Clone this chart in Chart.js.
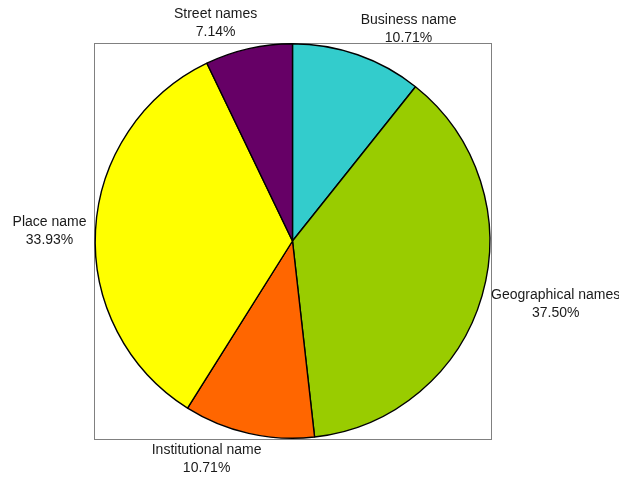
<!DOCTYPE html>
<html>
<head>
<meta charset="utf-8">
<script src="https://cdn.jsdelivr.net/npm/chart.js@4"></script>
<style>
  body { margin: 0; background: #fff; }
</style>
</head>
<body>
<canvas id="canvas" width="619" height="479"></canvas>
<script>
let categories = ["Business name", "Geographical names", "Institutional name", "Place name", "Street names"];
let counts = [6, 21, 6, 19, 4];
let sliceColors = ["#33cccc", "#99cc00", "#ff6600", "#ffff00", "#660066"];

// small pixel nudges for the label text, per slice
let labelNudge = [[39, 8], [39, -1], [-34, -9], [-10, 3], [-25, 10]];

let total = counts.reduce((a, b) => a + b, 0);
let percents = counts.map(v => (v / total * 100).toFixed(2) + "%");

const boxPlugin = {
  id: 'box',
  beforeDatasetsDraw(chart) {
    const { ctx, chartArea } = chart;
    ctx.save();
    ctx.strokeStyle = "#808080";
    ctx.lineWidth = 1;
    ctx.strokeRect(Math.round(chartArea.left) + 0.5, Math.round(chartArea.top) + 0.5,
      Math.round(chartArea.width), Math.round(chartArea.height));
    ctx.restore();
  }
};

const labelPlugin = {
  id: 'sliceLabels',
  afterDraw(chart) {
    const ctx = chart.ctx;
    const arcs = chart.getDatasetMeta(0).data;
    ctx.save();
    ctx.font = "14px 'Liberation Sans', Arial, sans-serif";
    ctx.fillStyle = "#1a1a1a";
    ctx.textAlign = "center";
    ctx.textBaseline = "middle";
    arcs.forEach((arc, i) => {
      const mid = (arc.startAngle + arc.endAngle) / 2;
      const d = arc.outerRadius + 36;
      const x = arc.x + Math.cos(mid) * d + labelNudge[i][0];
      const y = arc.y + Math.sin(mid) * d + labelNudge[i][1];
      ctx.fillText(categories[i], x, y - 9);
      ctx.fillText(percents[i], x, y + 9);
    });
    ctx.restore();
  }
};

const ctx = document.getElementById('canvas');
const myChart = new Chart(ctx, {
  type: 'pie',
  data: {
    labels: categories,
    datasets: [{
      data: counts,
      backgroundColor: sliceColors,
      borderColor: "#000",
      borderWidth: 1.4
    }]
  },
  options: {
    responsive: false,
    animation: false,
    layout: {
      padding: { left: 94, right: 128, top: 43, bottom: 40 }
    },
    plugins: {
      legend: { display: false },
      tooltip: { enabled: false }
    }
  },
  plugins: [boxPlugin, labelPlugin]
});
</script>
</body>
</html>
